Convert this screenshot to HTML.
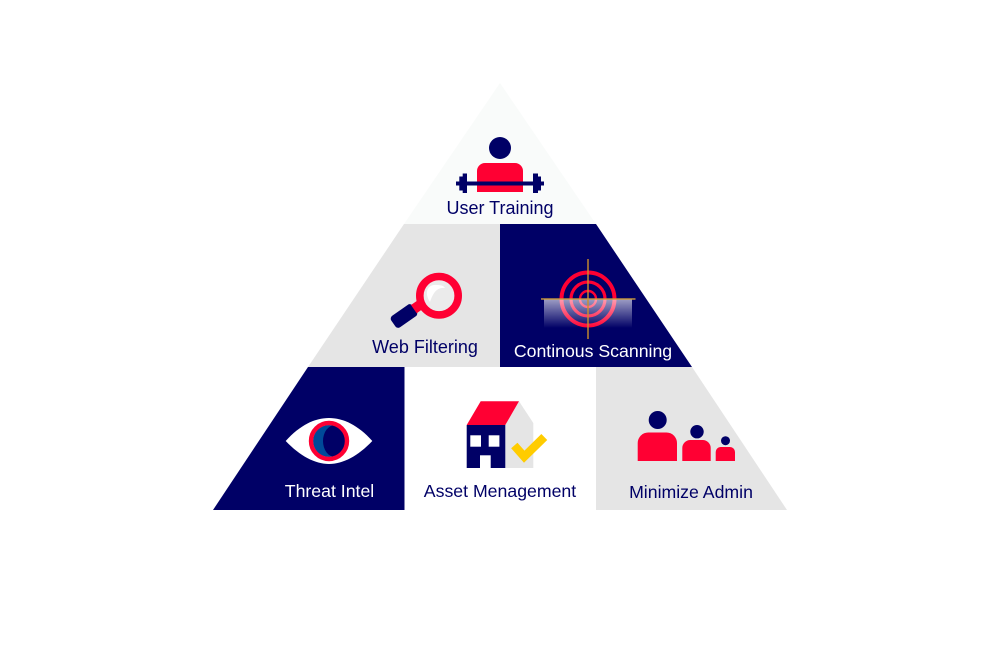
<!DOCTYPE html>
<html lang="en">
<head>
<meta charset="utf-8">
<title>Security Pyramid</title>
<style>
html,body{margin:0;padding:0;background:#fff;width:1000px;height:663px;overflow:hidden}
svg{display:block}
text{font-family:"Liberation Sans",sans-serif;font-size:17.7px;text-anchor:middle}
</style>
</head>
<body>
<svg width="1000" height="663" viewBox="0 0 1000 663" xmlns="http://www.w3.org/2000/svg">
<defs>
<linearGradient id="g" x1="0" y1="0" x2="0" y2="1">
<stop offset="0" stop-color="#fff" stop-opacity=".62"/>
<stop offset="1" stop-color="#fff" stop-opacity="0"/>
</linearGradient>
</defs>
<rect width="1000" height="663" fill="#fff"/>

<!-- panels -->
<polygon points="500,83 596,224 404,224" fill="#f9fbfa"/>
<polygon points="404,224 500,224 500,367 308,367" fill="#e5e5e5"/>
<polygon points="500,224 596,224 692,367 500,367" fill="#000066"/>
<polygon points="308,367 404.500,367 404.500,510 213,510" fill="#000066"/>
<polygon points="596,367 692,367 787,510 596,510" fill="#e5e5e5"/>

<!-- user training -->
<circle cx="500" cy="148" r="11" fill="#000066"/>
<path d="M477 192V171a8 8 0 0 1 8-8h30a8 8 0 0 1 8 8v21z" fill="#ff0033"/>
<rect x="456" y="181.500" width="88" height="4" fill="#000066"/>
<rect x="459.300" y="176.500" width="4" height="14" fill="#000066"/>
<rect x="462.700" y="173.500" width="4.300" height="19.500" fill="#000066"/>
<rect x="533" y="173.500" width="5" height="19.500" fill="#000066"/>
<rect x="537.500" y="176.500" width="3.500" height="14" fill="#000066"/>
<text x="500" y="214" font-size="18" style="font-size:18px" fill="#000066">User Training</text>

<!-- web filtering -->
<g transform="rotate(-35 404 316)">
<rect x="391" y="309" width="26" height="14" rx="3.500" fill="#000066"/>
<rect x="416" y="311" width="9" height="10" fill="#ff0033"/>
</g>
<circle cx="439" cy="295.700" r="17" fill="#ebebeb"/>
<path d="M430 302C424 293 427 284 437 285C441 285 444 286 445 288C437 287 433 293 430 302z" fill="#fff"/>
<circle cx="439" cy="295.700" r="19.200" fill="none" stroke="#ff0033" stroke-width="7.600"/>
<text x="425" y="353" style="font-size:18px" fill="#000066">Web Filtering</text>

<!-- continuous scanning -->
<circle cx="588" cy="299" r="26.500" fill="none" stroke="#ff0033" stroke-width="4"/>
<circle cx="588" cy="299" r="17" fill="none" stroke="#ff0033" stroke-width="3.200"/>
<circle cx="588" cy="299" r="8" fill="none" stroke="#ff0033" stroke-width="2.400"/>
<rect x="544" y="299" width="88" height="29" fill="url(#g)"/>
<rect x="587.300" y="259" width="1.400" height="80" fill="#cc8f2a"/>
<rect x="541" y="298.300" width="94.500" height="1.400" fill="#cc9a3a"/>
<text x="593" y="357" fill="#fff">Continous Scanning</text>

<!-- threat intel -->
<path d="M285.700 441C300 425 315 418 329 418C343 418 358 425 372.300 441C358 456 343 464 329 464C315 464 300 456 285.700 441z" fill="#fff"/>
<circle cx="329" cy="441" r="16" fill="#004a99"/>
<ellipse cx="335" cy="441" rx="12" ry="16" fill="#000066"/>
<circle cx="329" cy="441" r="18" fill="none" stroke="#ff0033" stroke-width="4.400"/>
<text x="329.500" y="497" fill="#fff">Threat Intel</text>

<!-- asset management -->
<polygon points="505.300,425 519,401.300 533.300,423 533.300,468 505.300,468" fill="#e5e5e5"/>
<polygon points="466.700,425 480.700,401.300 519,401.300 505.300,425" fill="#ff0033"/>
<rect x="466.700" y="425" width="38.600" height="43" fill="#000066"/>
<rect x="470.300" y="435.300" width="10.700" height="11.400" fill="#fff"/>
<rect x="488.700" y="435.300" width="10.700" height="11.400" fill="#fff"/>
<rect x="480" y="455.300" width="10.700" height="12.700" fill="#fff"/>
<polyline points="514.300,445.500 524.200,456.700 544.300,437" fill="none" stroke="#ffcc00" stroke-width="8.400"/>
<text x="500" y="497" fill="#000066">Asset Menagement</text>

<!-- minimize admin -->
<circle cx="657.700" cy="420" r="9" fill="#000066"/>
<path d="M637.700 461V443a10.500 10.500 0 0 1 10.500-10.500h18.300a10.500 10.500 0 0 1 10.500 10.500v18z" fill="#ff0033"/>
<circle cx="697" cy="431.700" r="6.700" fill="#000066"/>
<path d="M682.300 461V448a8 8 0 0 1 8-8h12.400a8 8 0 0 1 8 8v13z" fill="#ff0033"/>
<circle cx="725.500" cy="440.700" r="4.500" fill="#000066"/>
<path d="M715.700 461V452a5 5 0 0 1 5-5h9.300a5 5 0 0 1 5 5v9z" fill="#ff0033"/>
<text x="691" y="498" fill="#000066">Minimize Admin</text>
</svg>
</body>
</html>
